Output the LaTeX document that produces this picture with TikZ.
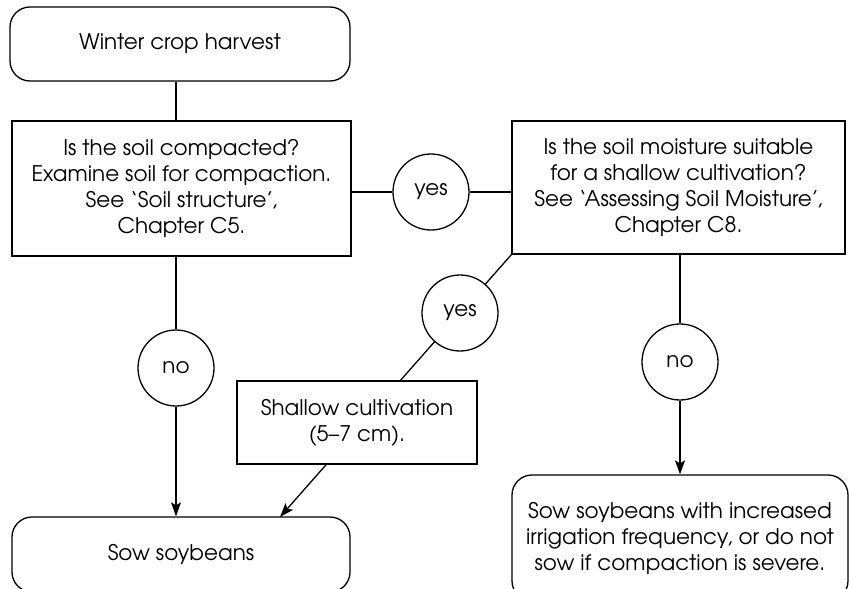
\documentclass[tikz,border=0pt]{standalone}
\usepackage{fontspec}
\setmainfont{TeX Gyre Adventor}
\usetikzlibrary{arrows.meta,backgrounds}

\tikzset{
  base/.style={draw, line width=1.3pt, fill=white, inner sep=0pt, align=center,
    font=\fontsize{21.5}{26}\selectfont},
  roundbox/.style={base, rectangle, rounded corners=20pt},
  sqbox/.style={base, rectangle},
  answer/.style={base, circle, minimum size=76pt},
  link/.style={line width=1.3pt},
  arrow/.style={link, -{Stealth[length=14pt,width=10pt,inset=3pt]}}
}

\begin{document}
\begin{tikzpicture}[x=1pt,y=-1pt]
  \useasboundingbox (0,0) rectangle (849,589);

  % boxes
  \node[roundbox, minimum width=340pt, minimum height=74pt] (start) at (180,44) {Winter crop harvest};
  \node[sqbox, minimum width=339pt, minimum height=135pt] (q1) at (181.5,188.5)
    {Is the soil compacted?\\Examine soil for compaction.\\See ‘Soil structure’,\\Chapter C5.};
  \node[sqbox, minimum width=333pt, minimum height=133pt] (q2) at (678.5,187.5)
    {Is the soil moisture suitable\\for a shallow cultivation?\\See ‘Assessing Soil Moisture’,\\Chapter C8.};
  \node[sqbox, minimum width=240pt, minimum height=83pt] (shallow) at (357,422.5)
    {Shallow cultivation\\(5–7 cm).};
  \node[roundbox, minimum width=338pt, minimum height=75pt] (sow) at (181,554.5) {Sow soybeans};
  \node[roundbox, minimum width=336pt, minimum height=126pt] (sowirr) at (680,538)
    {Sow soybeans with increased\\irrigation frequency, or do not\\sow if compaction is severe.};

  % decision answers
  \node[answer] (yes1) at (431,192) {yes};
  \node[answer] (no1) at (176,368) {no};
  \node[answer] (yes2) at (460,313) {yes};
  \node[answer] (no2) at (680,362) {no};

  \coordinate (tip) at (280,517);

  % connectors, kept behind the boxes
  \begin{pgfonlayer}{background}
    \draw[link] (no1 |- start.south) -- (no1);
    \draw[arrow] (no1) -- (no1 |- sow.north);
    \draw[link] (q1.east |- yes1) -- (yes1) -- (q2.west |- yes1);
    \draw[link] (no2 |- q2.south) -- (no2);
    \draw[arrow] (no2) -- (no2 |- sowirr.north);
    \draw[arrow] (q2.south west) -- (tip);
  \end{pgfonlayer}
\end{tikzpicture}
\end{document}
